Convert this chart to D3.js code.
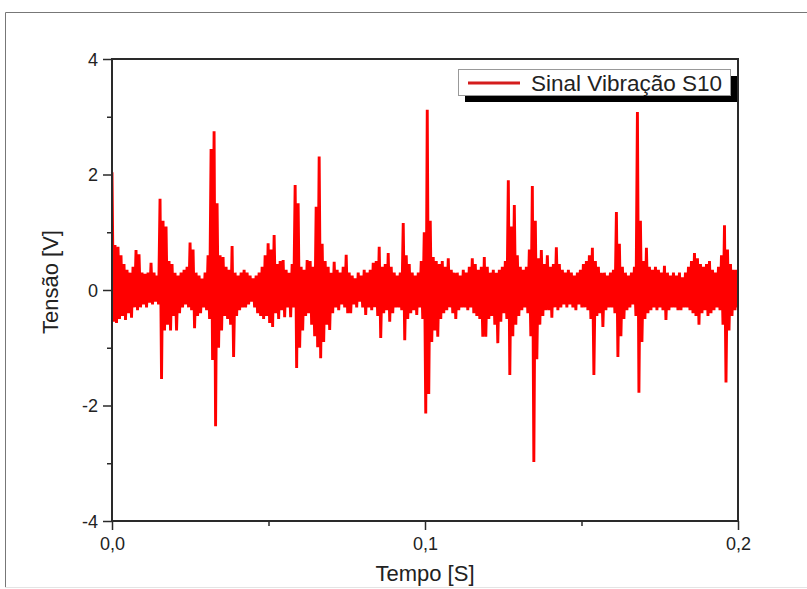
<!DOCTYPE html>
<html><head><meta charset="utf-8">
<script src="https://cdn.jsdelivr.net/npm/d3@7"></script>
<style>body{margin:0;background:#fff}svg{display:block}</style>
</head><body><svg id="c" width="807" height="589"></svg>
<script>
// ---- data ----
const seriesName = "Sinal Vibração S10";
const xTitle = "Tempo [S]";
const yTitle = "Tensão [V]";
const xDomain = [0, 0.2];
const yDomain = [-4, 4];
const xTicks = [0, 0.1, 0.2];
const xMinorTicks = [0.05, 0.15];
const yTicks = [-4, -2, 0, 2, 4];
const yMinorTicks = [-3, -1, 1, 3];
// successive positive / negative excursions of the signal, uniformly sampled over 0..0.2 s
const upper = [2.04,0.78,0.75,0.6,0.45,0.35,0.3,0.4,0.69,0.62,
0.3,0.28,0.3,0.47,0.3,0.25,1.58,1.2,1.1,0.5,
0.45,0.3,0.25,0.3,0.35,0.4,0.82,0.7,0.3,0.25,
0.2,0.3,0.6,2.44,2.75,1.5,0.6,0.57,0.4,0.35,
0.76,0.3,0.25,0.3,0.35,0.3,0.25,0.2,0.25,0.3,
0.4,0.6,0.81,0.7,0.95,0.45,0.5,0.52,0.35,0.3,
0.45,1.82,1.5,0.4,0.35,0.52,0.5,0.4,1.44,2.31,
0.8,0.5,0.4,0.3,0.49,0.35,0.3,0.4,0.61,0.3,
0.25,0.2,0.3,0.25,0.35,0.3,0.35,0.47,0.5,0.75,
0.4,0.45,0.64,0.4,0.3,0.25,0.3,1.16,0.6,0.45,
0.3,0.25,0.3,0.5,1.0,3.12,1.2,0.57,0.5,0.45,
0.5,0.4,0.55,0.35,0.3,0.3,0.25,0.35,0.3,0.4,
0.55,0.45,0.35,0.4,0.57,0.4,0.3,0.35,0.3,0.35,
0.4,0.5,1.9,1.1,1.47,0.6,0.4,0.35,0.4,0.7,
1.8,1.2,0.55,0.69,0.45,0.6,0.4,0.45,0.74,0.45,
0.35,0.3,0.35,0.3,0.25,0.3,0.35,0.45,0.5,0.6,
0.73,0.5,0.4,0.3,0.3,0.25,0.3,0.35,1.35,0.8,
0.4,0.3,0.25,0.3,0.4,3.08,1.2,0.5,0.73,0.4,
0.35,0.4,0.35,0.3,0.42,0.3,0.25,0.3,0.25,0.3,
0.22,0.3,0.4,0.5,0.64,0.55,0.45,0.4,0.45,0.5,
0.35,0.3,0.4,0.6,1.12,0.7,0.45,0.35,0.35];
const lower = [-0.55,-0.57,-0.5,-0.45,-0.52,-0.4,-0.48,-0.3,-0.35,-0.3,
-0.25,-0.3,-0.22,-0.25,-0.2,-0.25,-1.54,-0.7,-0.6,-0.7,
-0.45,-0.7,-0.4,-0.3,-0.25,-0.3,-0.35,-0.66,-0.45,-0.4,
-0.3,-0.35,-0.5,-1.21,-2.36,-1.0,-0.7,-0.45,-0.5,-0.6,
-1.16,-0.45,-0.35,-0.3,-0.3,-0.25,-0.2,-0.3,-0.4,-0.45,
-0.5,-0.45,-0.57,-0.64,-0.4,-0.5,-0.35,-0.47,-0.3,-0.47,
-0.3,-1.35,-1.0,-0.7,-0.45,-0.4,-0.6,-0.8,-0.99,-1.18,
-0.9,-0.6,-0.69,-0.4,-0.3,-0.35,-0.25,-0.3,-0.4,-0.4,
-0.25,-0.3,-0.2,-0.3,-0.43,-0.3,-0.35,-0.3,-0.45,-0.83,
-0.4,-0.35,-0.55,-0.4,-0.3,-0.3,-0.35,-0.87,-0.5,-0.4,
-0.35,-0.43,-0.3,-0.5,-2.14,-1.8,-0.9,-0.7,-0.81,-0.5,
-0.4,-0.35,-0.3,-0.4,-0.5,-0.35,-0.3,-0.3,-0.35,-0.3,
-0.4,-0.45,-0.5,-0.81,-0.81,-0.5,-0.45,-0.6,-0.92,-0.55,
-0.4,-0.5,-1.47,-0.8,-0.6,-0.45,-0.35,-0.3,-0.4,-0.8,
-2.98,-1.2,-0.6,-0.45,-0.35,-0.35,-0.48,-0.3,-0.35,-0.3,
-0.25,-0.3,-0.25,-0.3,-0.35,-0.25,-0.3,-0.3,-0.35,-0.5,
-1.47,-0.45,-0.4,-0.64,-0.35,-0.3,-0.3,-0.4,-1.16,-0.8,
-0.5,-0.35,-0.3,-0.25,-0.45,-1.78,-0.9,-0.5,-0.4,-0.35,
-0.3,-0.35,-0.3,-0.35,-0.52,-0.35,-0.3,-0.3,-0.35,-0.35,
-0.3,-0.3,-0.35,-0.4,-0.45,-0.6,-0.4,-0.35,-0.45,-0.4,
-0.35,-0.3,-0.35,-0.6,-1.6,-0.7,-0.45,-0.35,-0.3];

// ---- build samples ----
const signal = [];
upper.forEach((u, i) => { signal.push(u); signal.push(lower[i]); });
const dt = (xDomain[1] - xDomain[0]) / (signal.length - 1);
const samples = signal.map((v, j) => ({t: xDomain[0] + j * dt, v}));

// ---- layout ----
const svg = d3.select("#c");
const L = 112, R = 738, T = 59, B = 521;
const x = d3.scaleLinear().domain(xDomain).range([L, R]);
const y = d3.scaleLinear().domain(yDomain).range([B, T]);
const fmt = d3.formatLocale({decimal: ",", thousands: ".", grouping: [3], currency: ["", ""], minus: "-"}).format(".1f");
const font = "'Liberation Sans', Arial, sans-serif";

// outer frame of the figure
svg.append("path").attr("d", `M5.5,588 V12.5 H807`).attr("fill", "none").attr("stroke", "#777").attr("stroke-width", 1);
svg.append("line").attr("x1", 5).attr("x2", 807).attr("y1", 587.5).attr("y2", 587.5).attr("stroke", "#e4e4e4");

// clip
svg.append("clipPath").attr("id", "clip").append("rect").attr("x", L).attr("y", T).attr("width", R - L).attr("height", B - T);

// signal line
const line = d3.line().x(d => x(d.t)).y(d => y(d.v));
svg.append("path").datum(samples).attr("clip-path", "url(#clip)")
  .attr("d", line).attr("fill", "none").attr("stroke", "#ff0000")
  .attr("stroke-width", 2.9).attr("stroke-linejoin", "miter").attr("stroke-miterlimit", 1.5);

// axes
const axisColor = "#2a2a2a";
const yAx = svg.append("g").attr("transform", `translate(${L},0)`)
  .call(d3.axisLeft(y).tickValues(yTicks).tickSize(9).tickSizeOuter(0).tickPadding(5).tickFormat(d => String(d)));
const yMin = svg.append("g").attr("transform", `translate(${L},0)`)
  .call(d3.axisLeft(y).tickValues(yMinorTicks).tickSize(5).tickSizeOuter(0).tickFormat(""));
const xAx = svg.append("g").attr("transform", `translate(0,${B})`)
  .call(d3.axisBottom(x).tickValues(xTicks).tickSize(9).tickSizeOuter(0).tickPadding(7).tickFormat(fmt));
const xMin = svg.append("g").attr("transform", `translate(0,${B})`)
  .call(d3.axisBottom(x).tickValues(xMinorTicks).tickSize(5).tickSizeOuter(0).tickFormat(""));
[yAx, yMin, xAx, xMin].forEach(g => {
  g.select(".domain").remove();
  g.selectAll("line").attr("stroke", axisColor).attr("stroke-width", 1.5);
  g.selectAll("text").attr("fill", "#222").style("font-family", font).style("font-size", "18px");
});
yAx.selectAll("text").attr("dy", "0.35em");

// frame
svg.append("rect").attr("x", L).attr("y", T).attr("width", R - L).attr("height", B - T)
  .attr("fill", "none").attr("stroke", axisColor).attr("stroke-width", 2);

// axis titles
svg.append("text").attr("x", (L + R) / 2).attr("y", 581).attr("text-anchor", "middle")
  .style("font-family", font).style("font-size", "22px").attr("fill", "#222").text(xTitle);
svg.append("text").attr("transform", `translate(58,${(T + B) / 2 - 8}) rotate(-90)`).attr("text-anchor", "middle")
  .style("font-family", font).style("font-size", "22px").attr("fill", "#222").text(yTitle);

// legend
const lg = svg.append("g");
lg.append("rect").attr("x", 465).attr("y", 76).attr("width", 272).attr("height", 26).attr("fill", "#000");
lg.append("rect").attr("x", 458.5).attr("y", 69.5).attr("width", 272).attr("height", 26)
  .attr("fill", "#fff").attr("stroke", "#999").attr("stroke-width", 1);
lg.append("line").attr("x1", 468).attr("x2", 520).attr("y1", 83).attr("y2", 83)
  .attr("stroke", "#d41c1c").attr("stroke-width", 3);
lg.append("text").attr("x", 531).attr("y", 91).style("font-family", font).style("font-size", "22.5px")
  .attr("fill", "#222").text(seriesName);
</script></body></html>
